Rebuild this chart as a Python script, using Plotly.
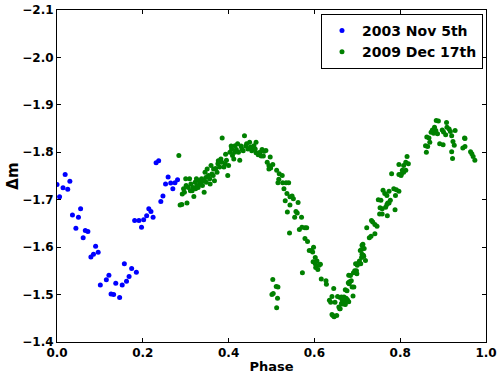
import plotly.graph_objects as go

series_names = ["2003 Nov 5th", "2009 Dec 17th"]
x_ticks = [0.0, 0.2, 0.4, 0.6, 0.8, 1.0]
y_ticks = [-2.1, -2.0, -1.9, -1.8, -1.7, -1.6, -1.5, -1.4]

blue_phase = [0.000, 0.006, 0.014, 0.019, 0.025, 0.030, 0.036, 0.044, 0.050, 0.055,
              0.061, 0.066, 0.072, 0.079, 0.085, 0.090, 0.096, 0.101, 0.115, 0.121,
              0.126, 0.132, 0.137, 0.146, 0.152, 0.157, 0.162, 0.168, 0.174, 0.181,
              0.185, 0.191, 0.197, 0.202, 0.209, 0.214, 0.219, 0.224, 0.231, 0.237,
              0.242, 0.247, 0.253, 0.259, 0.265, 0.270, 0.275, 0.281]
blue_dm = [-1.732, -1.706, -1.725, -1.753, -1.722, -1.739, -1.668, -1.640, -1.663, -1.681,
           -1.620, -1.635, -1.633, -1.579, -1.585, -1.602, -1.589, -1.520, -1.531, -1.541,
           -1.501, -1.500, -1.524, -1.494, -1.520, -1.565, -1.528, -1.538, -1.555, -1.656,
           -1.547, -1.656, -1.642, -1.658, -1.666, -1.681, -1.675, -1.663, -1.778, -1.782,
           -1.696, -1.708, -1.733, -1.748, -1.735, -1.723, -1.736, -1.742]

green_phase = [
    0.284, 0.287, 0.291, 0.292, 0.295, 0.297, 0.300, 0.301, 0.303, 0.306,
    0.309, 0.311, 0.312, 0.315, 0.317, 0.319, 0.322, 0.323, 0.325, 0.326,
    0.329, 0.331, 0.333, 0.336, 0.337, 0.339, 0.342, 0.343, 0.345, 0.347,
    0.348, 0.350, 0.353, 0.356, 0.357, 0.359, 0.361, 0.364, 0.365, 0.367,
    0.370, 0.373, 0.375, 0.376, 0.379, 0.382, 0.384, 0.385, 0.389, 0.392,
    0.393, 0.395, 0.398, 0.400, 0.403, 0.406, 0.407, 0.409, 0.412, 0.414,
    0.415, 0.418, 0.421, 0.423, 0.426, 0.429, 0.431, 0.434, 0.437, 0.440,
    0.442, 0.445, 0.449, 0.451, 0.454, 0.455, 0.459, 0.462, 0.464, 0.464,
    0.469, 0.473, 0.476, 0.478, 0.481, 0.483, 0.487, 0.490, 0.494, 0.494,
    0.497, 0.498, 0.503, 0.512, 0.515, 0.517, 0.518, 0.525, 0.526, 0.529,
    0.532, 0.534, 0.536, 0.537, 0.540, 0.542, 0.543, 0.543, 0.548, 0.551,
    0.554, 0.557, 0.560, 0.562, 0.565, 0.570, 0.571, 0.572, 0.578, 0.578,
    0.582, 0.584, 0.588, 0.593, 0.596, 0.598, 0.597, 0.602, 0.602, 0.606,
    0.611, 0.603, 0.608, 0.614, 0.616, 0.627, 0.628,
    0.501, 0.503, 0.504, 0.511, 0.514, 0.515, 0.512,
    0.635, 0.638, 0.641, 0.641, 0.643, 0.645, 0.646, 0.648, 0.652, 0.654,
    0.657, 0.659, 0.660, 0.660, 0.663, 0.663, 0.665, 0.665, 0.668, 0.669,
    0.671, 0.672, 0.672, 0.674, 0.674, 0.676, 0.677, 0.679, 0.680, 0.680,
    0.681, 0.682, 0.684, 0.686, 0.688, 0.690, 0.692, 0.691, 0.694, 0.696,
    0.698, 0.699, 0.696, 0.700, 0.703, 0.705, 0.707, 0.708, 0.710, 0.710,
    0.711, 0.711, 0.713, 0.714, 0.715, 0.716, 0.719, 0.722, 0.728, 0.732,
    0.733, 0.736, 0.741, 0.741, 0.746, 0.749, 0.752, 0.753, 0.755, 0.758,
    0.758, 0.760, 0.764, 0.766, 0.769, 0.769, 0.770, 0.771, 0.774, 0.774,
    0.777, 0.780, 0.785, 0.788, 0.789, 0.791, 0.797, 0.797, 0.797, 0.802,
    0.803, 0.805, 0.808, 0.808, 0.813, 0.813, 0.816, 0.819,
    0.859, 0.861, 0.862, 0.864, 0.867, 0.869, 0.872, 0.875, 0.878, 0.880,
    0.883, 0.884, 0.887, 0.889, 0.892, 0.898, 0.900, 0.901, 0.906, 0.908,
    0.909, 0.914, 0.917, 0.920, 0.920, 0.922, 0.923, 0.926, 0.928, 0.946,
    0.950, 0.951, 0.951, 0.964, 0.967, 0.970, 0.974]
green_dm = [
    -1.793, -1.689, -1.690, -1.712, -1.723, -1.716, -1.744, -1.730, -1.693, -1.726,
    -1.744, -1.719, -1.733, -1.719, -1.726, -1.707, -1.737, -1.723, -1.744, -1.730,
    -1.726, -1.740, -1.733, -1.737, -1.744, -1.730, -1.740, -1.716, -1.758, -1.747,
    -1.737, -1.765, -1.751, -1.744, -1.733, -1.772, -1.754, -1.751, -1.765, -1.740,
    -1.766, -1.758, -1.776, -1.782, -1.769, -1.786, -1.779, -1.830, -1.769, -1.776,
    -1.796, -1.783, -1.751, -1.772, -1.800, -1.813, -1.807, -1.793, -1.786, -1.800,
    -1.814, -1.806, -1.818, -1.800, -1.783, -1.813, -1.807, -1.803, -1.835, -1.813,
    -1.818, -1.807, -1.821, -1.811, -1.803, -1.809, -1.814, -1.807, -1.821, -1.799,
    -1.795, -1.800, -1.792, -1.806, -1.792, -1.802, -1.804, -1.779, -1.772, -1.765,
    -1.790, -1.767, -1.774, -1.762, -1.736, -1.743, -1.755, -1.751, -1.736, -1.723,
    -1.698, -1.736, -1.713, -1.674, -1.736, -1.630, -1.706, -1.689, -1.708, -1.702,
    -1.663, -1.675, -1.672, -1.694, -1.637, -1.663, -1.642, -1.546, -1.641, -1.618,
    -1.641, -1.612, -1.593, -1.593, -1.590, -1.600, -1.569, -1.565, -1.578, -1.571,
    -1.562, -1.557, -1.553, -1.564, -1.533, -1.529, -1.522,
    -1.500, -1.532, -1.502, -1.517, -1.492, -1.516, -1.472,
    -1.488, -1.484, -1.496, -1.458, -1.456, -1.513, -1.453, -1.484, -1.456, -1.496,
    -1.474, -1.470, -1.494, -1.470, -1.481, -1.495, -1.488, -1.480, -1.482, -1.495,
    -1.480, -1.479, -1.510, -1.492, -1.487, -1.508, -1.489, -1.525, -1.541, -1.485,
    -1.523, -1.527, -1.540, -1.529, -1.516, -1.497, -1.516, -1.546, -1.550, -1.548,
    -1.550, -1.544, -1.565, -1.562, -1.567, -1.571, -1.593, -1.565, -1.578, -1.595,
    -1.585, -1.604, -1.606, -1.583, -1.581, -1.597, -1.572, -1.641, -1.620, -1.623,
    -1.656, -1.653, -1.628, -1.648, -1.644, -1.700, -1.670, -1.683, -1.699, -1.670,
    -1.681, -1.720, -1.713, -1.684, -1.709, -1.690, -1.666, -1.693, -1.718, -1.693,
    -1.699, -1.755, -1.723, -1.679, -1.709, -1.721, -1.718, -1.753, -1.774, -1.751,
    -1.755, -1.762, -1.758, -1.772, -1.779, -1.762, -1.791, -1.776,
    -1.814, -1.800, -1.832, -1.812, -1.830, -1.821, -1.842, -1.847, -1.840, -1.853,
    -1.846, -1.867, -1.839, -1.866, -1.818, -1.847, -1.816, -1.843, -1.837, -1.863,
    -1.853, -1.849, -1.844, -1.835, -1.801, -1.787, -1.823, -1.815, -1.846, -1.809,
    -1.830, -1.829, -1.812, -1.801, -1.797, -1.791, -1.783]

FONT = "DejaVu Sans"

fig = go.Figure()
fig.add_trace(go.Scatter(x=blue_phase, y=blue_dm, mode="markers", name=series_names[0],
                         marker=dict(color="#0000ff", size=5, line=dict(width=0))))
fig.add_trace(go.Scatter(x=green_phase, y=green_dm, mode="markers", name=series_names[1],
                         marker=dict(color="#008000", size=5, line=dict(width=0))))

axis_common = dict(showgrid=False, zeroline=False, showline=True, linecolor="black",
                   linewidth=1, mirror="allticks", ticks="inside", ticklen=4,
                   tickcolor="black", tickwidth=1, automargin=False,
                   tickfont=dict(family=FONT, size=12, color="black", weight="bold"))

fig.update_xaxes(range=[0, 1.0], tickvals=x_ticks, tickformat=".1f",
                 title=dict(text="Phase", font=dict(family=FONT, size=13, color="black", weight="bold"),
                            standoff=3),
                 **axis_common)
fig.update_yaxes(range=[-1.4, -2.1], tickvals=y_ticks, tickformat=".1f",
                 title=dict(text="Δm", font=dict(family=FONT, size=15, color="black", weight="bold"),
                            standoff=0),
                 **axis_common)

fig.update_layout(
    width=497, height=374,
    margin=dict(l=57, r=11, t=10, b=32),
    plot_bgcolor="white", paper_bgcolor="white",
    font=dict(family=FONT, color="black"),
    legend=dict(x=0.993, y=0.988, xanchor="right", yanchor="top",
                bordercolor="black", borderwidth=1, bgcolor="white",
                font=dict(family=FONT, size=14, color="black", weight="bold"),
                itemsizing="trace", tracegroupgap=0),
)

fig.write_html("out.html")
